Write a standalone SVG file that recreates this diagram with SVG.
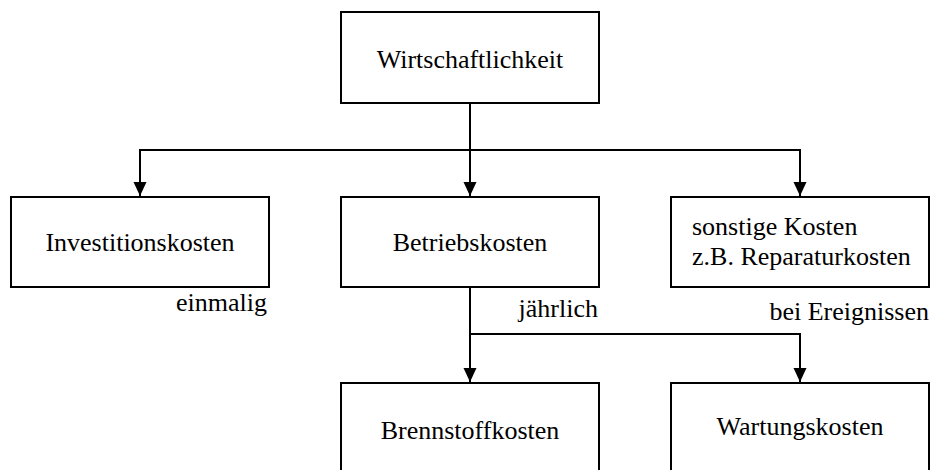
<svg xmlns="http://www.w3.org/2000/svg" width="931" height="470" viewBox="0 0 931 470">
  <style>
    .box { fill: #ffffff; stroke: #000000; stroke-width: 2; }
    .lbl { font-size: 26px; fill: #000000; }
    .mid { text-anchor: middle; }
    .end { text-anchor: end; }
    .wire { fill: none; stroke: #000000; stroke-width: 2; }
  </style>
  <defs>
    <marker id="arrow" markerUnits="userSpaceOnUse" markerWidth="14" markerHeight="15" refX="14" refY="7" orient="auto">
      <path d="M0,0.5 L14,7 L0,13.5 Z" fill="#000000"/>
    </marker>
  </defs>
  <rect width="931" height="470" fill="#ffffff"/>

  <g id="connectors">
    <path class="wire" d="M470,103 V196" marker-end="url(#arrow)"/>
    <path class="wire" d="M140,196 V150 H800 V196" marker-end="url(#arrow)"/>
    <path class="wire" d="M140,150 V196" marker-end="url(#arrow)"/>
    <path class="wire" d="M470,287 V382" marker-end="url(#arrow)"/>
    <path class="wire" d="M470,334 H800 V382" marker-end="url(#arrow)"/>
  </g>

  <g font-family="'Liberation Serif', Tinos, 'Times New Roman', 'DejaVu Serif', serif">
    <g id="wirtschaftlichkeit">
      <rect class="box" x="341" y="12" width="258" height="91"/>
      <text class="lbl mid" x="470" y="68">Wirtschaftlichkeit</text>
    </g>

    <g id="investitionskosten">
      <rect class="box" x="11" y="197" width="258" height="90"/>
      <text class="lbl mid" x="140" y="251">Investitionskosten</text>
      <text class="lbl end" x="267" y="311">einmalig</text>
    </g>

    <g id="betriebskosten">
      <rect class="box" x="341" y="197" width="258" height="90"/>
      <text class="lbl mid" x="470" y="251">Betriebskosten</text>
      <text class="lbl end" x="598" y="317">jährlich</text>
    </g>

    <g id="sonstige-kosten">
      <rect class="box" x="671" y="197" width="258" height="90"/>
      <text class="lbl" x="692" y="235">sonstige Kosten</text>
      <text class="lbl" x="692" y="265">z.B. Reparaturkosten</text>
      <text class="lbl end" x="929" y="320">bei Ereignissen</text>
    </g>

    <g id="brennstoffkosten">
      <rect class="box" x="341" y="383" width="258" height="100"/>
      <text class="lbl mid" x="470" y="439">Brennstoffkosten</text>
    </g>

    <g id="wartungskosten">
      <rect class="box" x="671" y="383" width="258" height="100"/>
      <text class="lbl mid" x="800" y="435">Wartungskosten</text>
    </g>
  </g>
</svg>
